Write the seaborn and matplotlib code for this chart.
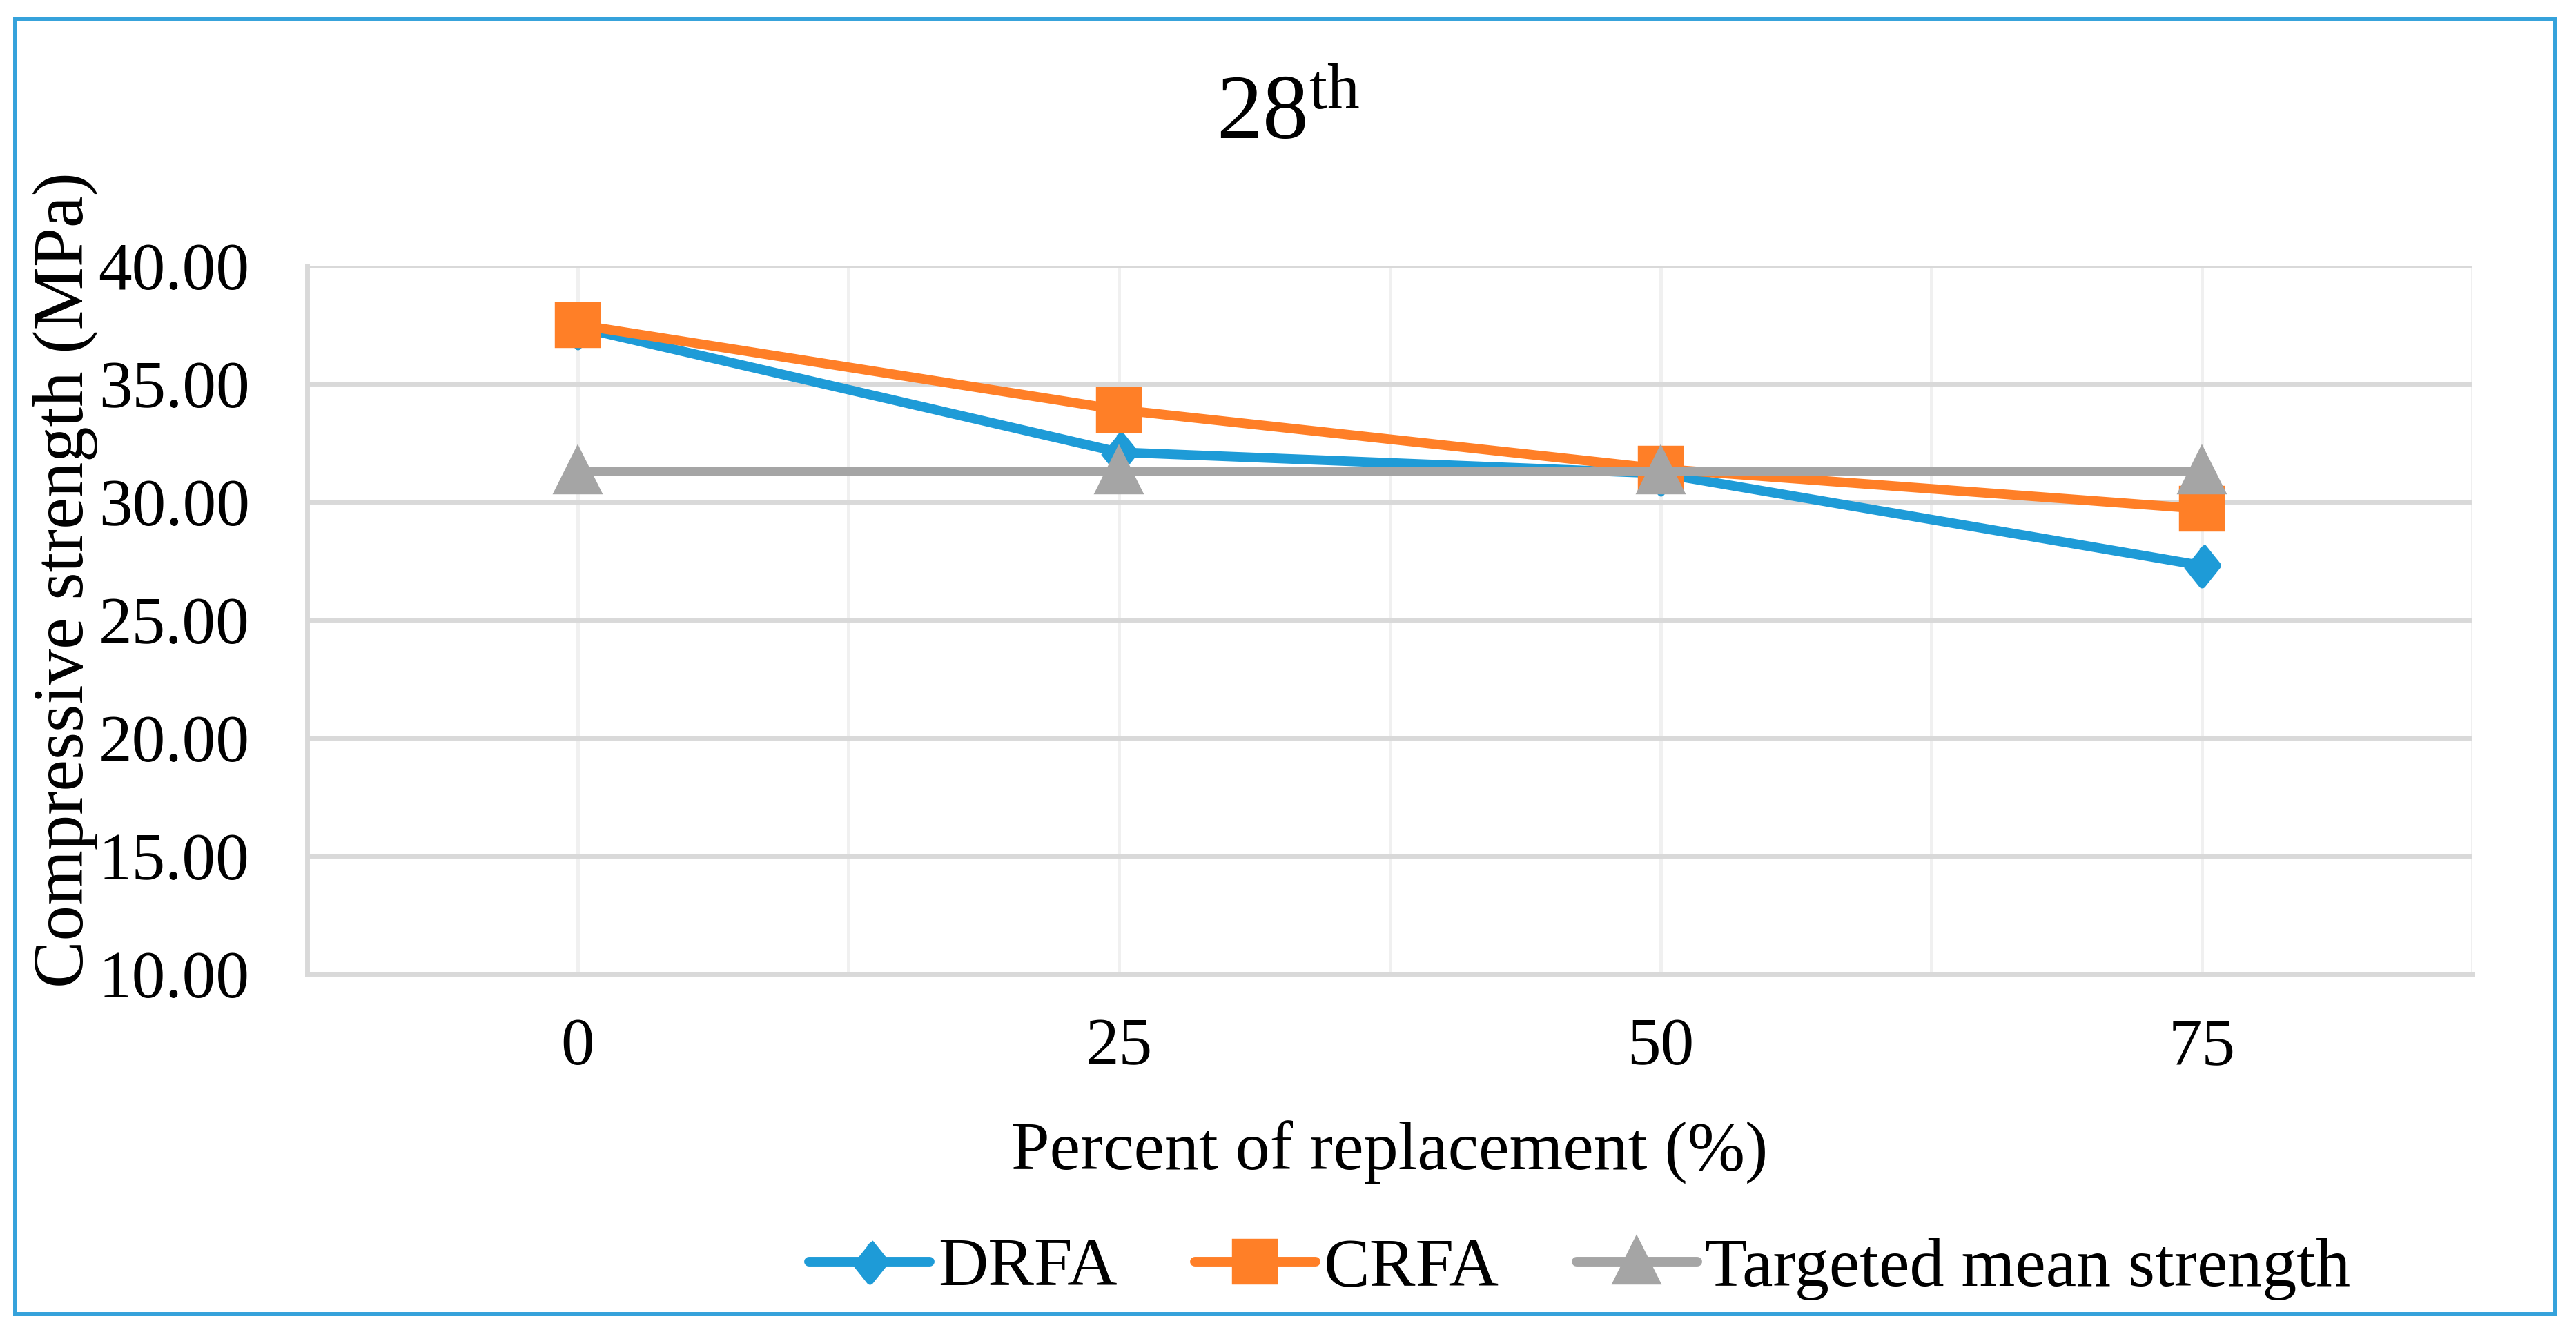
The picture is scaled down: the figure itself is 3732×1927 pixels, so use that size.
import numpy as np
import pandas as pd
import matplotlib
matplotlib.use("Agg")
import matplotlib.pyplot as plt
import seaborn as sns
from matplotlib.patches import Rectangle
from matplotlib.ticker import FixedLocator, FormatStrFormatter

# ---- data ----
replacement = ["0", "25", "50", "75"]
drfa = [37.4, 32.1, 31.2, 27.3]
crfa = [37.5, 33.9, 31.4, 29.7]
target = [31.3, 31.3, 31.3, 31.3]
series_names = ["DRFA", "CRFA", "Targeted mean strength"]
y_ticks = [10, 15, 20, 25, 30, 35, 40]

# ---- style ----
colors = ["#1E9BD7", "#FF7F27", "#A5A5A5"]
diamond = [(0, 0.5), (0.4, 0), (0, -0.5), (-0.4, 0)]
markers = [diamond, "s", "^"]

sns.set_theme(style="white")
plt.rcParams["font.family"] = ["Liberation Serif", "DejaVu Serif"]
plt.rcParams["mathtext.fontset"] = "custom"
plt.rcParams["mathtext.rm"] = "Liberation Serif"
plt.rcParams["mathtext.it"] = "Liberation Serif:italic"
for k in ["text.color", "axes.labelcolor", "xtick.color", "ytick.color"]:
    plt.rcParams[k] = "black"

df = pd.DataFrame({
    "pct": replacement * 3,
    "val": drfa + crfa + target,
    "series": [s for s in series_names for _ in replacement],
})

W, H = 3732, 1927
fig = plt.figure(figsize=(W / 100, H / 100), dpi=100)
ax = fig.add_axes([445 / W, 1 - 1411 / H, (3582 - 445) / W, (1411 - 385) / H])

sns.pointplot(data=df, x="pct", y="val", hue="series", order=replacement,
              hue_order=series_names, palette=colors, markers=markers,
              linestyles="-", errorbar=None, markersize=40, linewidth=10,
              ax=ax)

handles = list(ax.get_lines())[:3]
if ax.get_legend() is not None:
    ax.get_legend().remove()

ax.set_xlim(-0.5, 3.5)
ax.set_ylim(10, 40)
ax.set_yticks(y_ticks)
ax.yaxis.set_major_formatter(FormatStrFormatter("%.2f"))
ax.xaxis.set_minor_locator(FixedLocator([-0.5, 0.5, 1.5, 2.5, 3.5]))
ax.set_axisbelow(True)
ax.yaxis.grid(True, color="#D9D9D9", linewidth=5)
ax.xaxis.grid(True, which="both", color="#F0F0F0", linewidth=3.6)
for s in ["top", "right"]:
    ax.spines[s].set_visible(False)
for s in ["left", "bottom"]:
    ax.spines[s].set_color("#D9D9D9")
    ax.spines[s].set_linewidth(5)
ax.tick_params(axis="both", which="both", length=0, labelsize=70, colors="black")
ax.tick_params(axis="y", pad=60)
ax.tick_params(axis="x", pad=46)
ax.set_xlabel("")
ax.set_ylabel("")

fig.text(0.5, 1 - 168 / H, r"28$^{\mathrm{th}}$", ha="center", va="center",
         fontsize=96)
fig.text(95 / W, 1 - 840 / H, "Compressive strength (MPa)", rotation=90,
         ha="center", va="center", fontsize=74)
fig.text(2013 / W, 1 - 1670 / H, "Percent of replacement (%)",
         ha="center", va="center", fontsize=72)

fig.legend(handles, series_names, loc="center left",
           bbox_to_anchor=(1172 / W, 1 - 1838 / H), ncol=3, frameon=False,
           fontsize=72, numpoints=1, handlelength=1.75, handletextpad=0.12,
           columnspacing=1.12, borderaxespad=0, borderpad=0)

fig.patches.append(Rectangle((22 / W, 1 - 1904 / H), (3702 - 22) / W,
                             (1904 - 27) / H, transform=fig.transFigure,
                             fill=False, edgecolor="#35A2DB", linewidth=4.3))

fig.savefig("out.png", dpi=100)
